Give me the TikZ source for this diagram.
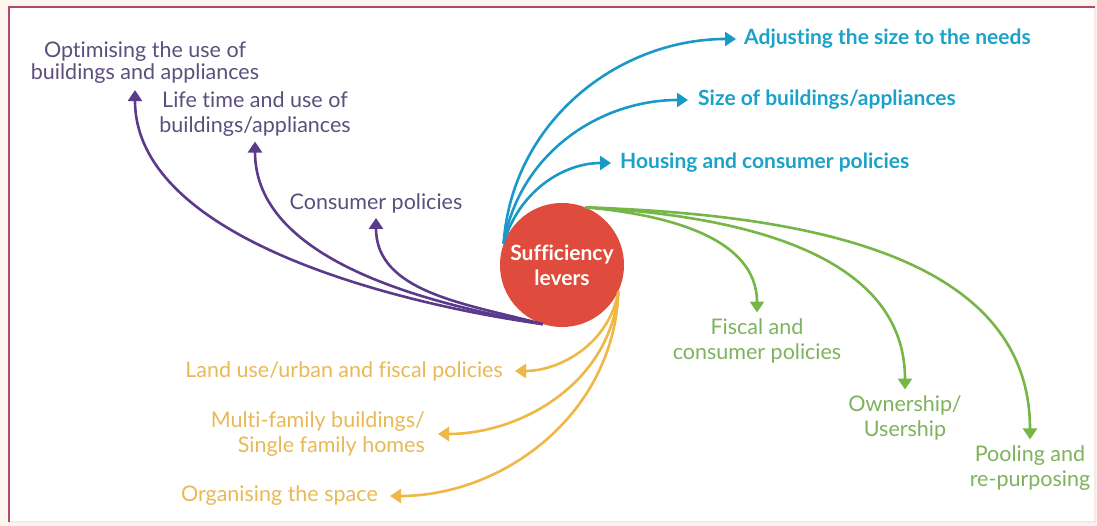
\documentclass[tikz,border=0pt]{standalone}
\usepackage{fontspec}
\setmainfont{Lato}[Ligatures=NoCommon]
\usetikzlibrary{arrows.meta}
\definecolor{bgcream}{HTML}{FCF6EE}
\definecolor{framemag}{HTML}{B2476F}
\definecolor{framepale}{HTML}{FAE6E8}
\definecolor{levred}{HTML}{DF4B3C}
\definecolor{lvpurple}{HTML}{5B3A8C}
\definecolor{txpurple}{HTML}{5C4F7C}
\definecolor{lvblue}{HTML}{1A98C8}
\definecolor{txblue}{HTML}{1BA2C8}
\definecolor{lvyellow}{HTML}{EFB845}
\definecolor{txyellow}{HTML}{E9B955}
\definecolor{lvgreen}{HTML}{76B646}
\definecolor{txgreen}{HTML}{7DB35C}
\tikzset{
  lbl/.style={font=\fontsize{21.5}{25}\selectfont, inner sep=2pt},
  blbl/.style={font=\fontsize{21}{25}\selectfont\bfseries, inner sep=2pt},
  lever/.style={line width=2.6pt, -{Triangle[width=14pt,length=11pt]}},
  purplearrow/.style={lever, draw=lvpurple},
  bluearrow/.style={lever, draw=lvblue},
  yellowarrow/.style={lever, draw=lvyellow},
  greenarrow/.style={lever, draw=lvgreen},
}
\begin{document}
\begin{tikzpicture}[x=1pt,y=1pt]
% page and frame
\fill[bgcream] (0,0) rectangle (1097,526);
\fill[white] (9,4) rectangle (1095,519);
\draw[framepale, line width=1.5pt] (1095,519) -- (1095,4) -- (9,4);
\draw[framemag, line width=2pt] (9,4) -- (9,519) -- (1095,519);
\useasboundingbox (0,0) rectangle (1097,526);

% central circle
\node[circle, fill=levred, minimum size=124pt, inner sep=0pt, align=center,
      text=white, font=\fontsize{21}{25}\selectfont\bfseries] (lev) at (562,261)
      {Sufficiency\\levers};

% purple labels (top left)
\node[lbl, text=txpurple, align=center, font=\fontsize{21.5}{22}\selectfont] (opt) at (145,463) {Optimising the use of\\buildings and appliances};
\node[lbl, text=txpurple, align=center] (life) at (255,412) {Life time and use of\\buildings/appliances};
\node[lbl, text=txpurple] (cons) at (376,323) {Consumer policies};

% blue labels (top right)
\node[blbl, text=txblue, anchor=west] (adj) at (742,487) {Adjusting the size to the needs};
\node[blbl, text=txblue, anchor=west] (size) at (696,426) {Size of buildings/appliances};
\node[blbl, text=txblue, anchor=west] (hous) at (618,363) {Housing and consumer policies};

% yellow labels (bottom left)
\node[lbl, text=txyellow, anchor=east] (land) at (505,155) {Land use/urban and fiscal policies};
\node[lbl, text=txyellow, anchor=east, align=right] (multi) at (427,92) {Multi-family buildings/\\Single family homes};
\node[lbl, text=txyellow, anchor=east] (org) at (380,30) {Organising the space};

% green labels (bottom right)
\node[lbl, text=txgreen, align=center] (fisc) at (757,185) {Fiscal and\\consumer policies};
\node[lbl, text=txgreen, align=center] (own) at (905,108) {Ownership/\\Usership};
\node[lbl, text=txgreen, align=center] (pool) at (1030,58) {Pooling and\\re-purposing};

% purple levers
\draw[purplearrow, shorten >=4pt] (lev.-108) to[out=172, in=-90, looseness=0.82] ([xshift=-10pt]opt.south);
\draw[purplearrow, shorten >=3pt] (lev.-108) to[out=170, in=-90, looseness=0.9] (life.south);
\draw[purplearrow, shorten >=3pt] (lev.-108) to[out=165, in=-90, looseness=1] (cons.south);

% blue levers
\draw[bluearrow, shorten >=6pt] (lev.160) to[out=86, in=180] (adj.west);
\draw[bluearrow, shorten >=8pt] (lev.160) to[out=80, in=180] (size.west);
\draw[bluearrow, shorten >=7pt] (lev.160) to[out=74, in=180] (hous.west);

% yellow levers
\draw[yellowarrow, shorten >=10pt] (lev.-25) to[out=-100, in=0] (land.east);
\draw[yellowarrow, shorten >=11pt] (lev.-25) to[out=-95, in=0] (multi.east);
\draw[yellowarrow, shorten >=10pt] (lev.-25) to[out=-92, in=0] (org.east);

% green levers
\draw[greenarrow, shorten >=4pt] (lev.68) to[out=-5, in=90] (fisc.north);
\draw[greenarrow, shorten >=4pt] (lev.68) to[out=-3, in=90] (own.north);
\draw[greenarrow, shorten >=4pt] (lev.68) to[out=-2, in=90] (pool.north);
\end{tikzpicture}
\end{document}
